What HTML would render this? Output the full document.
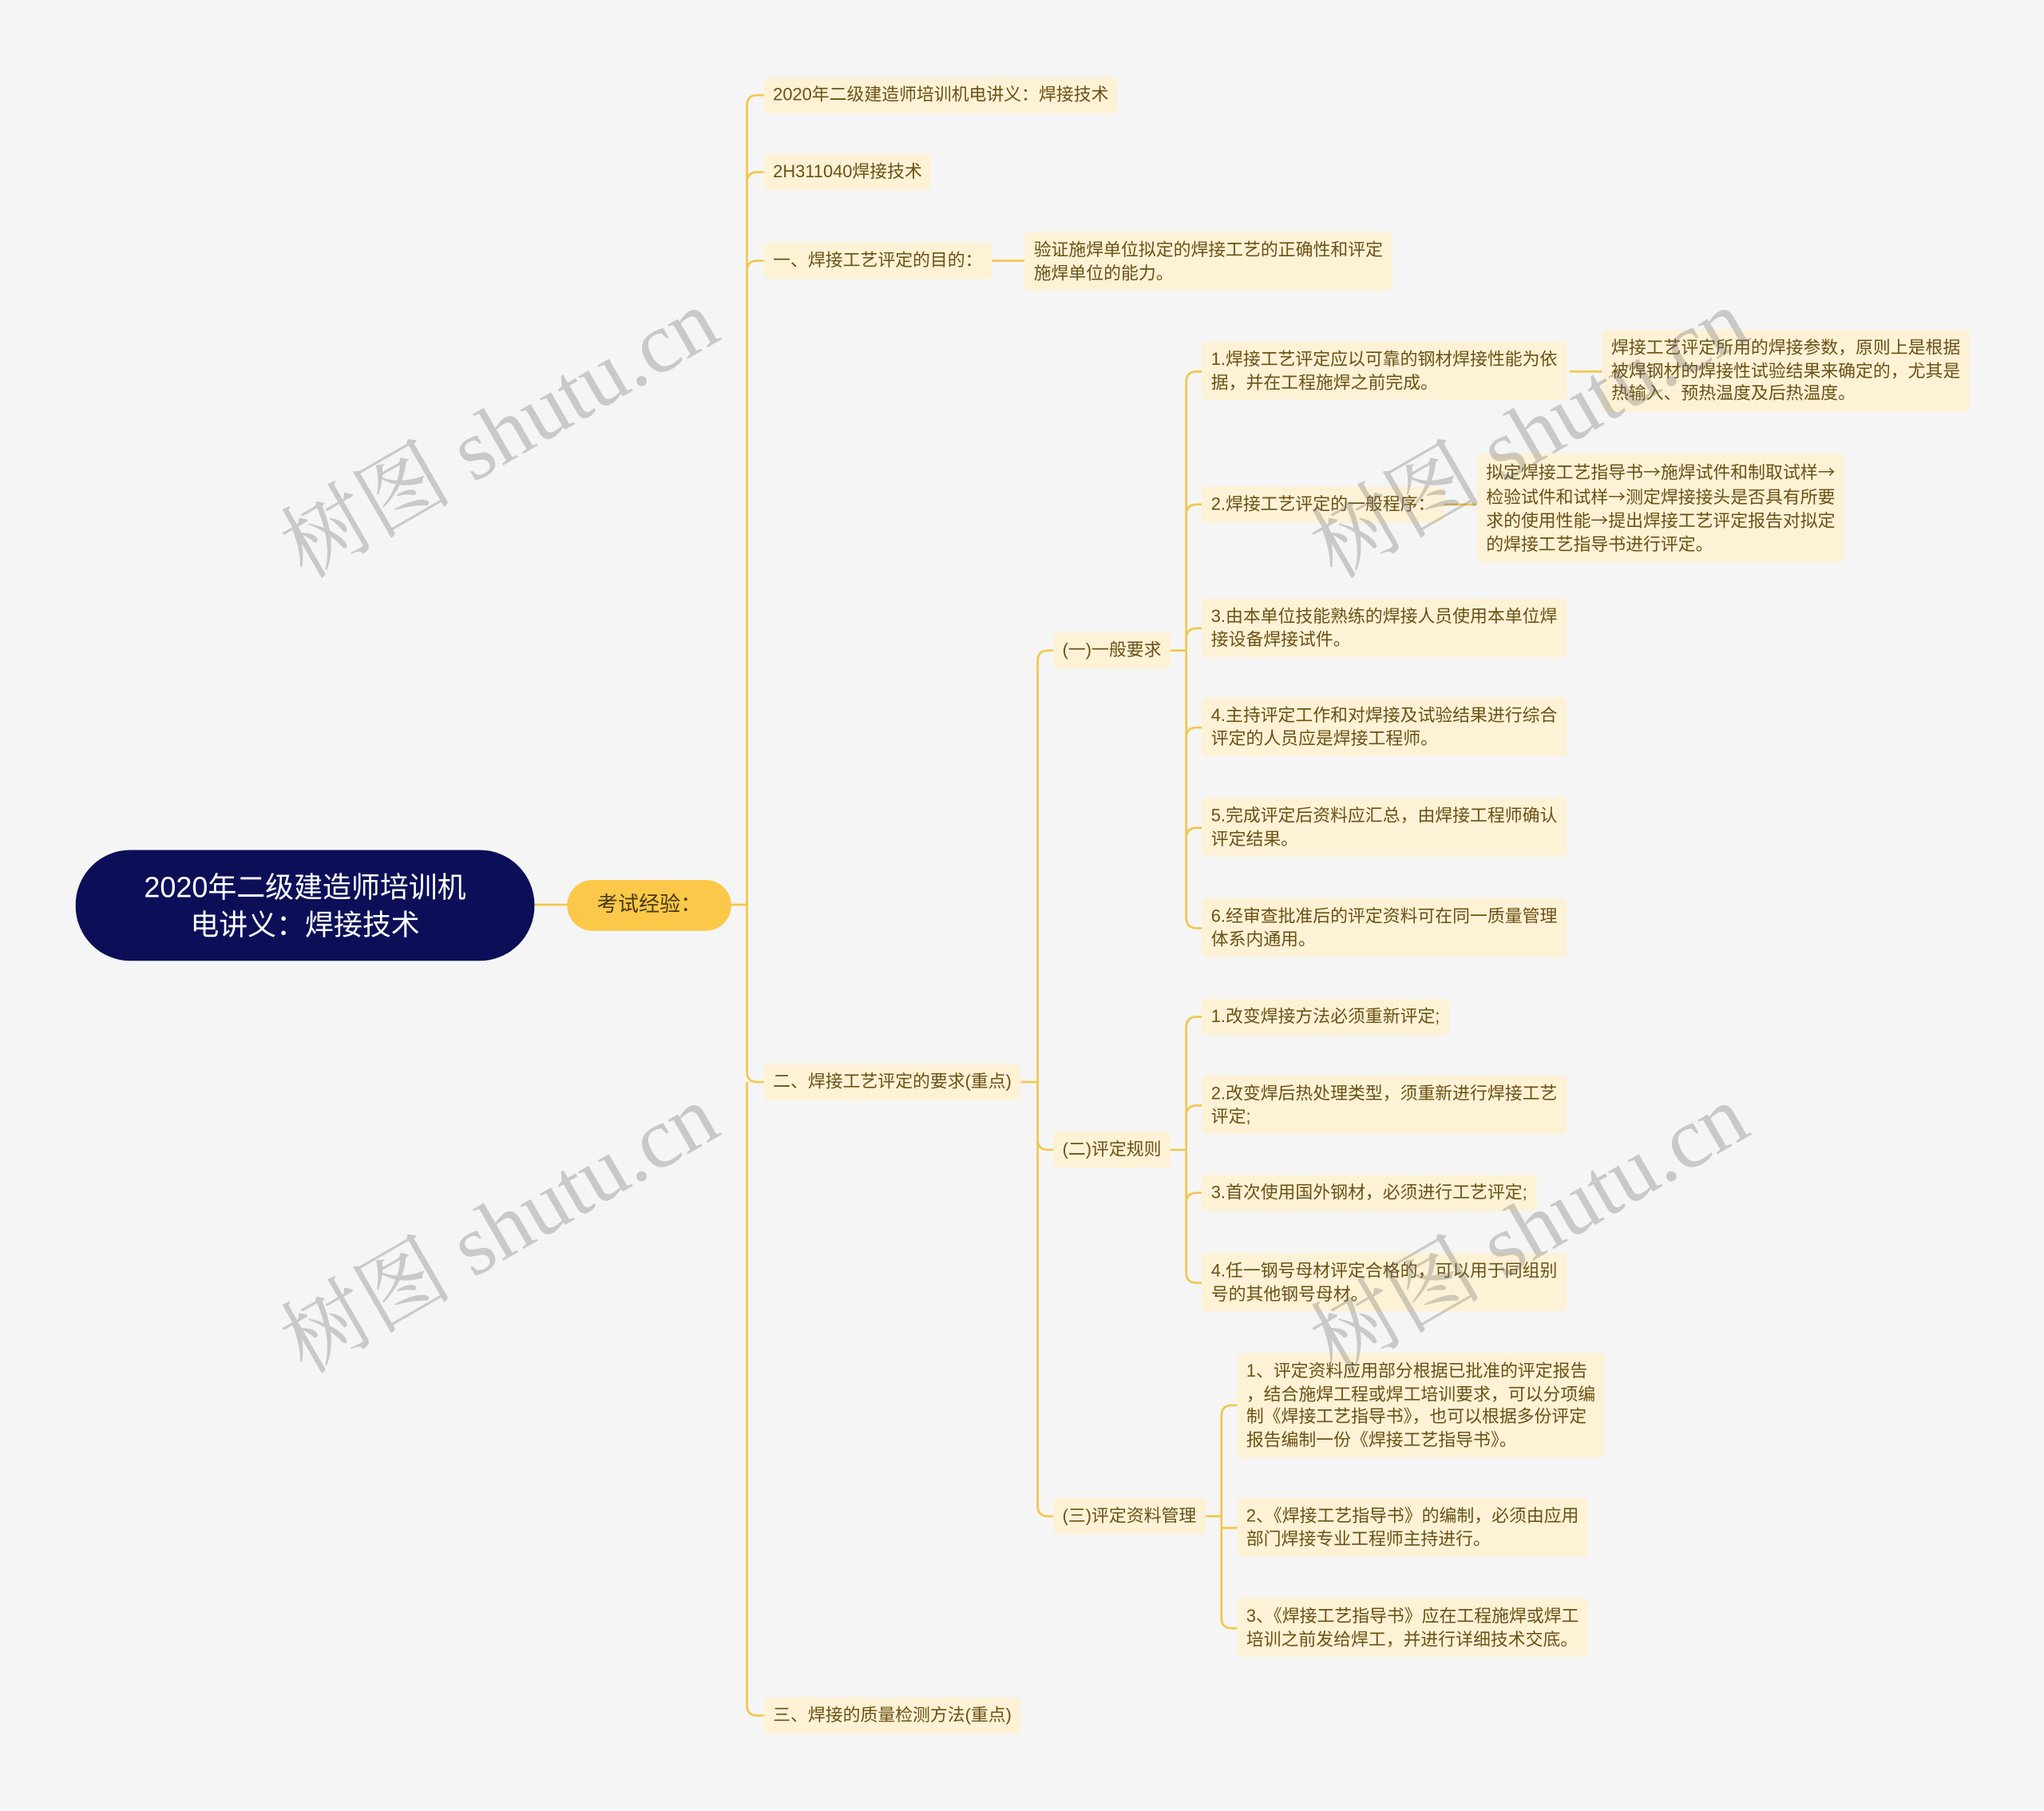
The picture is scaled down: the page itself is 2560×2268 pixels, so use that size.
<!DOCTYPE html>
<html><head><meta charset="utf-8"><style>
html,body{margin:0;padding:0;background:#f5f5f5;width:2560px;height:2268px;overflow:hidden}
#c{position:absolute;left:0;top:0;width:1568px;height:1389px;transform:scale(1.63265);transform-origin:0 0;font-family:"Liberation Sans","Noto Sans CJK SC",sans-serif}
.n{position:absolute;background:#fdf2d6;color:#6b5214;font-size:13.4px;line-height:17.5px;padding:5px 7px;border-radius:4px;box-sizing:border-box;white-space:nowrap}
.a{font-family:"Noto Sans CJK SC",sans-serif}
.wm{position:absolute;font-family:"Liberation Serif","Noto Serif CJK SC",serif;font-size:66px;color:rgba(110,110,110,0.32);transform:rotate(-30deg);white-space:nowrap}
</style></head><body><div id="c">
<svg width="1568" height="1389" style="position:absolute;left:0;top:0" fill="none" stroke="#f2c649" stroke-width="1.6">
<path d="M410 694H435"/>
<g>
<path d="M561 694H573V81Q573 73 581 73H586"/>
<path d="M573 140Q573 132 581 132H586"/>
<path d="M573 208Q573 200 581 200H586"/>
<path d="M561 694H573V822Q573 830 581 830H586"/>
<path d="M573 1308Q573 1316 581 1316H586"/>
<path d="M573 830V1308"/>
</g>
<path d="M760 200H786"/>
<path d="M782 830H796"/>
<path d="M796 507Q796 499 804 499H808M796 830V1155Q796 1163 804 1163H808M796 507V1155M796 874Q796 882 804 882H808"/>
<path d="M896 499H910M910 293Q910 285 918 285H922M910 293V704Q910 712 918 712H922M910 395Q910 387 918 387H922M910 490Q910 482 918 482H922M910 566Q910 558 918 558H922M910 643Q910 635 918 635H922"/>
<path d="M896 882H910M910 788Q910 780 918 780H922M910 788V976Q910 984 918 984H922M910 856Q910 848 918 848H922M910 923Q910 915 918 915H922"/>
<path d="M923 1163H937M937 1086Q937 1078 945 1078H949M937 1086V1241Q937 1249 945 1249H949M937 1172H949"/>
<path d="M1204 285H1229M1106 387H1133"/>
</svg>
<div style="position:absolute;left:58px;top:652px;width:352px;height:85px;border-radius:42px;background:#0c0f58;color:#fff;font-size:22px;line-height:29px;text-align:center;display:flex;align-items:center;justify-content:center">2020年二级建造师培训机<br>电讲义：焊接技术</div>
<div style="position:absolute;left:435px;top:675px;width:126px;height:39px;border-radius:20px;background:#fbc84a;color:#4a3a10;font-size:16px;line-height:39px;text-align:center">考试经验：</div>
<div class="n" style="left:586px;top:59px">2020年二级建造师培训机电讲义：焊接技术</div>
<div class="n" style="left:586px;top:118px">2H311040焊接技术</div>
<div class="n" style="left:586px;top:186px">一、焊接工艺评定的目的：</div>
<div class="n" style="left:786px;top:178px">验证施焊单位拟定的焊接工艺的正确性和评定<br>施焊单位的能力。</div>
<div class="n" style="left:586px;top:816px">二、焊接工艺评定的要求(重点)</div>
<div class="n" style="left:586px;top:1302px">三、焊接的质量检测方法(重点)</div>
<div class="n" style="left:808px;top:485px">(一)一般要求</div>
<div class="n" style="left:808px;top:868px">(二)评定规则</div>
<div class="n" style="left:808px;top:1149px">(三)评定资料管理</div>
<div class="n" style="left:922px;top:262px">1.焊接工艺评定应以可靠的钢材焊接性能为依<br>据，并在工程施焊之前完成。</div>
<div class="n" style="left:1229px;top:253px">焊接工艺评定所用的焊接参数，原则上是根据<br>被焊钢材的焊接性试验结果来确定的，尤其是<br>热输入、预热温度及后热温度。</div>
<div class="n" style="left:922px;top:373px">2.焊接工艺评定的一般程序：</div>
<div class="n" style="left:1133px;top:348px">拟定焊接工艺指导书<span class="a">→</span>施焊试件和制取试样<span class="a">→</span><br>检验试件和试样<span class="a">→</span>测定焊接接头是否具有所要<br>求的使用性能<span class="a">→</span>提出焊接工艺评定报告对拟定<br>的焊接工艺指导书进行评定。</div>
<div class="n" style="left:922px;top:459px">3.由本单位技能熟练的焊接人员使用本单位焊<br>接设备焊接试件。</div>
<div class="n" style="left:922px;top:535px">4.主持评定工作和对焊接及试验结果进行综合<br>评定的人员应是焊接工程师。</div>
<div class="n" style="left:922px;top:612px">5.完成评定后资料应汇总，由焊接工程师确认<br>评定结果。</div>
<div class="n" style="left:922px;top:689px">6.经审查批准后的评定资料可在同一质量管理<br>体系内通用。</div>
<div class="n" style="left:922px;top:766px">1.改变焊接方法必须重新评定;</div>
<div class="n" style="left:922px;top:825px">2.改变焊后热处理类型，须重新进行焊接工艺<br>评定;</div>
<div class="n" style="left:922px;top:901px">3.首次使用国外钢材，必须进行工艺评定;</div>
<div class="n" style="left:922px;top:961px">4.任一钢号母材评定合格的，可以用于同组别<br>号的其他钢号母材。</div>
<div class="n" style="left:949px;top:1038px">1、评定资料应用部分根据已批准的评定报告<br>，结合施焊工程或焊工培训要求，可以分项编<br>制《焊接工艺指导书》，也可以根据多份评定<br>报告编制一份《焊接工艺指导书》。</div>
<div class="n" style="left:949px;top:1149px">2、《焊接工艺指导书》的编制，必须由应用<br>部门焊接专业工程师主持进行。</div>
<div class="n" style="left:949px;top:1226px">3、《焊接工艺指导书》应在工程施焊或焊工<br>培训之前发给焊工，并进行详细技术交底。</div>
<div class="wm" style="left:195px;top:280px">树图 shutu.cn</div>
<div class="wm" style="left:195px;top:890px">树图 shutu.cn</div>
<div class="wm" style="left:985px;top:280px">树图 shutu.cn</div>
<div class="wm" style="left:985px;top:890px">树图 shutu.cn</div>
</div></body></html>
